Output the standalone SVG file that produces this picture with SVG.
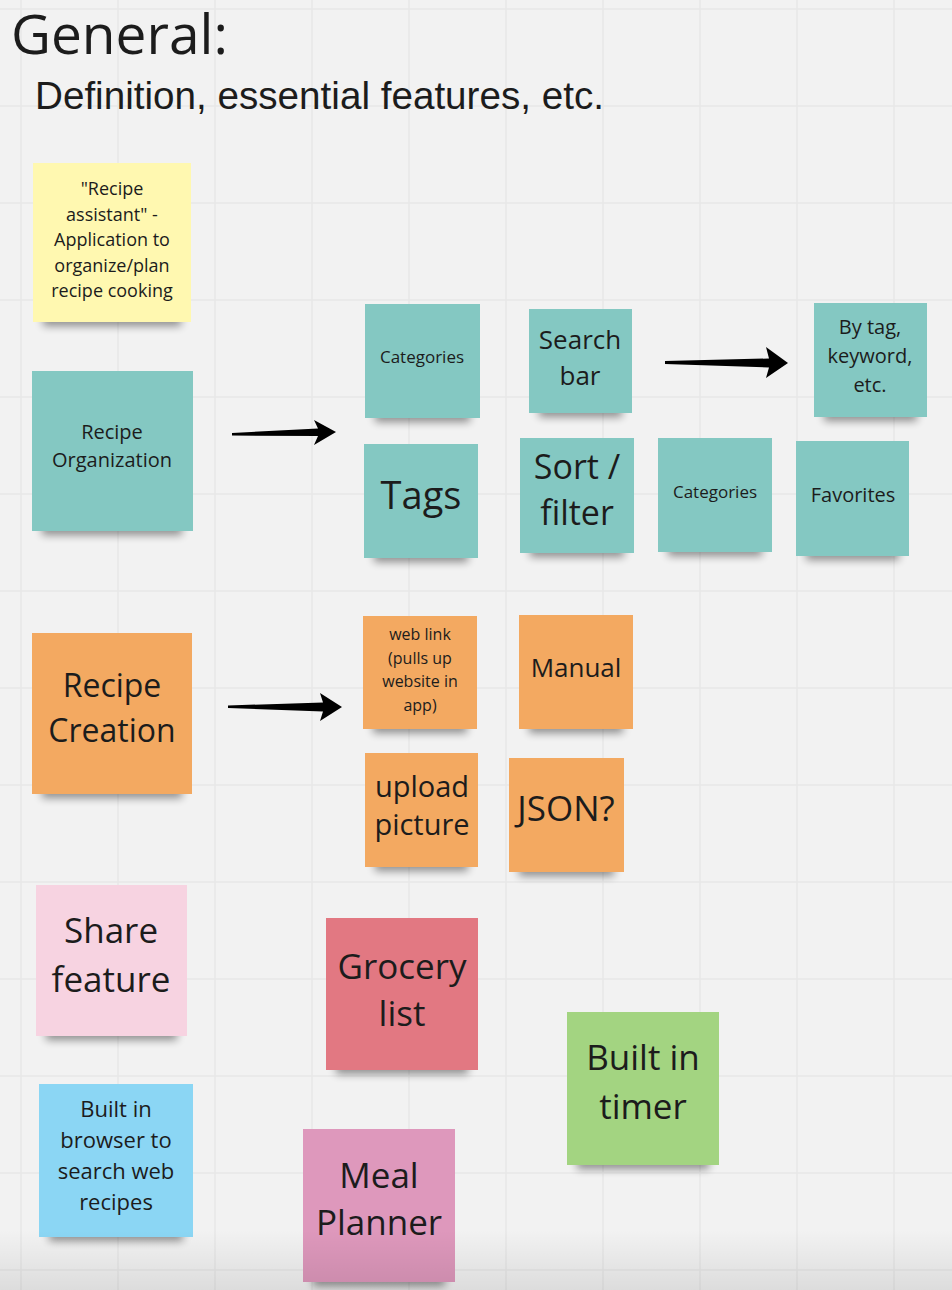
<svg xmlns="http://www.w3.org/2000/svg" width="952" height="1290" viewBox="0 0 952 1290">
<style>
.grid line{stroke:#e7e7e7;stroke-width:1.5}
.t{font-family:"Open Sans","Noto Sans",sans-serif;fill:#1c1c1c;text-anchor:middle}
.sh{fill:#000;opacity:.42;filter:url(#blur)}
.teal{fill:#84c8c2}
.orange{fill:#f3a961}
.arrow{fill:#000}
</style>
<defs>
<filter id="blur" x="-20%" y="-100%" width="140%" height="300%"><feGaussianBlur stdDeviation="4"/></filter>
<linearGradient id="bottomfade" x1="0" y1="0" x2="0" y2="1">
<stop offset="0" stop-color="#000" stop-opacity="0"/>
<stop offset="1" stop-color="#000" stop-opacity="0.09"/>
</linearGradient>
</defs>
<rect width="952" height="1290" fill="#f2f2f2"/>
<g class="grid">
<line x1="21" y1="0" x2="21" y2="1290"/><line x1="118" y1="0" x2="118" y2="1290"/><line x1="215" y1="0" x2="215" y2="1290"/><line x1="312" y1="0" x2="312" y2="1290"/><line x1="409" y1="0" x2="409" y2="1290"/><line x1="506" y1="0" x2="506" y2="1290"/><line x1="603" y1="0" x2="603" y2="1290"/><line x1="700" y1="0" x2="700" y2="1290"/><line x1="797" y1="0" x2="797" y2="1290"/><line x1="894" y1="0" x2="894" y2="1290"/>
<line x1="0" y1="9" x2="952" y2="9"/><line x1="0" y1="106" x2="952" y2="106"/><line x1="0" y1="203" x2="952" y2="203"/><line x1="0" y1="300" x2="952" y2="300"/><line x1="0" y1="397" x2="952" y2="397"/><line x1="0" y1="494" x2="952" y2="494"/><line x1="0" y1="591" x2="952" y2="591"/><line x1="0" y1="688" x2="952" y2="688"/><line x1="0" y1="785" x2="952" y2="785"/><line x1="0" y1="882" x2="952" y2="882"/><line x1="0" y1="979" x2="952" y2="979"/><line x1="0" y1="1076" x2="952" y2="1076"/><line x1="0" y1="1173" x2="952" y2="1173"/><line x1="0" y1="1270" x2="952" y2="1270"/>
</g>
<g id="title">
<text x="11" y="54" font-family="'Open Sans','Noto Sans',sans-serif" font-size="55" fill="#1c1c1c">General:</text>
<text x="35" y="109" font-family="'Liberation Sans',Arial,sans-serif" font-size="38" textLength="569" lengthAdjust="spacingAndGlyphs" fill="#1c1c1c">Definition, essential features, etc.</text>
</g>

<g id="note-recipe-assistant">
<rect class="sh" x="43" y="314" width="138" height="12"/>
<rect x="33" y="163" width="158" height="159" fill="#fff8b0"/>
<text class="t" font-size="18"><tspan x="112" y="195">"Recipe</tspan><tspan x="112" y="220.5">assistant" -</tspan><tspan x="112" y="246">Application to</tspan><tspan x="112" y="271.5">organize/plan</tspan><tspan x="112" y="297">recipe cooking</tspan></text>
</g>

<g id="note-recipe-organization">
<rect class="sh" x="42" y="523" width="140" height="12"/>
<rect class="teal" x="32" y="371" width="161" height="160"/>
<text class="t" font-size="20"><tspan x="112" y="439">Recipe</tspan><tspan x="112" y="467">Organization</tspan></text>
</g>

<g id="note-categories-1">
<rect class="sh" x="375" y="410" width="95" height="12"/>
<rect class="teal" x="365" y="304" width="115" height="114"/>
<text class="t" font-size="17" x="422" y="363">Categories</text>
</g>

<g id="note-search-bar">
<rect class="sh" x="539" y="405" width="83" height="12"/>
<rect class="teal" x="529" y="309" width="103" height="104"/>
<text class="t" font-size="26"><tspan x="580" y="349">Search</tspan><tspan x="580" y="385">bar</tspan></text>
</g>

<g id="note-by-tag">
<rect class="sh" x="824" y="409" width="93" height="12"/>
<rect class="teal" x="814" y="303" width="113" height="114"/>
<text class="t" font-size="20"><tspan x="870" y="334">By tag,</tspan><tspan x="870" y="363">keyword,</tspan><tspan x="870" y="392">etc.</tspan></text>
</g>

<g id="note-tags">
<rect class="sh" x="374" y="550" width="94" height="12"/>
<rect class="teal" x="364" y="444" width="114" height="114"/>
<text class="t" font-size="38" x="421" y="509">Tags</text>
</g>

<g id="note-sort-filter">
<rect class="sh" x="530" y="545" width="94" height="12"/>
<rect class="teal" x="520" y="438" width="114" height="115"/>
<text class="t" font-size="34"><tspan x="577" y="479">Sort /</tspan><tspan x="577" y="525">filter</tspan></text>
</g>

<g id="note-categories-2">
<rect class="sh" x="668" y="544" width="94" height="12"/>
<rect class="teal" x="658" y="438" width="114" height="114"/>
<text class="t" font-size="17" x="715" y="498">Categories</text>
</g>

<g id="note-favorites">
<rect class="sh" x="806" y="548" width="93" height="12"/>
<rect class="teal" x="796" y="441" width="113" height="115"/>
<text class="t" font-size="20" x="853" y="502">Favorites</text>
</g>

<g id="note-recipe-creation">
<rect class="sh" x="42" y="786" width="140" height="12"/>
<rect class="orange" x="32" y="633" width="160" height="161"/>
<text class="t" font-size="32"><tspan x="112" y="697">Recipe</tspan><tspan x="112" y="742">Creation</tspan></text>
</g>

<g id="note-web-link">
<rect class="sh" x="373" y="721" width="94" height="12"/>
<rect class="orange" x="363" y="616" width="114" height="113"/>
<text class="t" font-size="16"><tspan x="420" y="640">web link</tspan><tspan x="420" y="664">(pulls up</tspan><tspan x="420" y="687">website in</tspan><tspan x="420" y="711">app)</tspan></text>
</g>

<g id="note-manual">
<rect class="sh" x="529" y="721" width="94" height="12"/>
<rect class="orange" x="519" y="615" width="114" height="114"/>
<text class="t" font-size="26" x="576" y="677">Manual</text>
</g>

<g id="note-upload-picture">
<rect class="sh" x="375" y="859" width="93" height="12"/>
<rect class="orange" x="365" y="753" width="113" height="114"/>
<text class="t" font-size="29"><tspan x="422" y="797">upload</tspan><tspan x="422" y="835">picture</tspan></text>
</g>

<g id="note-json">
<rect class="sh" x="519" y="864" width="95" height="12"/>
<rect class="orange" x="509" y="758" width="115" height="114"/>
<text class="t" font-size="35" x="566" y="821">JSON?</text>
</g>

<g id="note-share-feature">
<rect class="sh" x="46" y="1028" width="131" height="12"/>
<rect x="36" y="885" width="151" height="151" fill="#f7d3e1"/>
<text class="t" font-size="35"><tspan x="111" y="943">Share</tspan><tspan x="111" y="992">feature</tspan></text>
</g>

<g id="note-grocery-list">
<rect class="sh" x="336" y="1062" width="132" height="12"/>
<rect x="326" y="918" width="152" height="152" fill="#e27882"/>
<text class="t" font-size="35"><tspan x="402" y="979">Grocery</tspan><tspan x="402" y="1026">list</tspan></text>
</g>

<g id="note-built-in-browser">
<rect class="sh" x="49" y="1229" width="134" height="12"/>
<rect x="39" y="1084" width="154" height="153" fill="#8bd6f4"/>
<text class="t" font-size="22"><tspan x="116" y="1117">Built in</tspan><tspan x="116" y="1148">browser to</tspan><tspan x="116" y="1179">search web</tspan><tspan x="116" y="1210">recipes</tspan></text>
</g>

<g id="note-meal-planner">
<rect class="sh" x="313" y="1274" width="132" height="12"/>
<rect x="303" y="1129" width="152" height="153" fill="#de98bc"/>
<text class="t" font-size="35"><tspan x="379" y="1188">Meal</tspan><tspan x="379" y="1235">Planner</tspan></text>
</g>

<g id="note-built-in-timer">
<rect class="sh" x="577" y="1157" width="132" height="12"/>
<rect x="567" y="1012" width="152" height="153" fill="#a3d481"/>
<text class="t" font-size="35"><tspan x="643" y="1070">Built in</tspan><tspan x="643" y="1119">timer</tspan></text>
</g>

<g id="connectors">
<path class="arrow" d="M232,433 L318,428.5 L314,420 L336,432 L314,445 L318,436 L232,435.5 Z"/>
<path class="arrow" d="M228,705.5 L323,702.5 L320,693 L342,707 L320,721 L323,711.5 L228,708 Z"/>
<path class="arrow" d="M665,361 L769,358.5 L766,347 L788,363 L766,378 L769,367.5 L665,364 Z"/>
</g>

<rect x="0" y="1230" width="952" height="60" fill="url(#bottomfade)"/>
</svg>
